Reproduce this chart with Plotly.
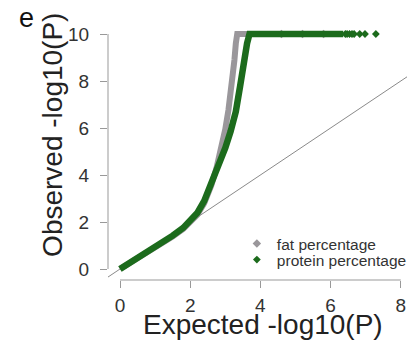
import plotly.graph_objects as go

# Diagonal reference (expected = observed)
diag_x = [-1, 11]
diag_y = [-1, 11]

# fat percentage
fat_x = [0, 0.5, 1.0, 1.5, 1.8, 2.0, 2.2, 2.4, 2.6, 2.75, 2.9, 3.0, 3.09, 3.18, 3.26, 3.30, 3.34, 4.5, 5.5, 6.2]
fat_y = [0, 0.44, 0.9, 1.38, 1.7, 1.97, 2.3, 2.8, 3.55, 4.3, 5.2, 5.95, 6.77, 7.76, 8.89, 9.6, 10.0, 10.0, 10.0, 10.0]
fat_tail_x = [4.6, 5.2, 5.8]
fat_tail_y = [10, 10, 10]

# protein percentage
prot_x = [0, 0.5, 1.0, 1.5, 1.8, 2.0, 2.2, 2.4, 2.6, 2.8, 3.0, 3.15, 3.3, 3.42, 3.53, 3.62, 3.69, 4.5, 5.5, 6.36]
prot_y = [0, 0.46, 0.93, 1.42, 1.75, 2.02, 2.38, 2.9, 3.6, 4.4, 5.15, 5.85, 6.7, 7.76, 8.89, 9.6, 10.0, 10.0, 10.0, 10.0]
prot_tail_x = [6.42, 6.47, 6.54, 6.61, 6.67, 6.83, 6.98, 7.29]
prot_tail_y = [10, 10, 10, 10, 10, 10, 10, 10]

x_ticks = [0, 2, 4, 6, 8]
y_ticks = [0, 2, 4, 6, 8, 10]

GREY = "#9a979b"
GREEN = "#1c6b1c"
FONT = "Liberation Sans, Arial, sans-serif"

fig = go.Figure()
fig.add_trace(go.Scatter(x=diag_x, y=diag_y, mode="lines",
                         line=dict(color="#8a8a8a", width=1), showlegend=False, hoverinfo="skip"))
fig.add_trace(go.Scatter(x=fat_x, y=fat_y, mode="lines",
                         line=dict(color=GREY, width=6), showlegend=False))
fig.add_trace(go.Scatter(x=fat_tail_x, y=fat_tail_y, mode="markers", name="fat percentage",
                         marker=dict(symbol="diamond", size=6.5, color=GREY), legend="legend"))
fig.add_trace(go.Scatter(x=prot_x, y=prot_y, mode="lines",
                         line=dict(color=GREEN, width=6.5), showlegend=False))
fig.add_trace(go.Scatter(x=prot_tail_x, y=prot_tail_y, mode="markers",
                         name="protein percentage",
                         marker=dict(symbol="diamond", size=6, color=GREEN), legend="legend2"))

axis_common = dict(showgrid=False, zeroline=False, showline=False, ticks="outside",
                   ticklen=7, tickwidth=1, tickcolor="#999999",
                   tickfont=dict(family=FONT, size=19, color="#333333"))

legend_common = dict(xanchor="left", yanchor="top", bgcolor="rgba(0,0,0,0)",
                     font=dict(family=FONT, size=15.5, color="#333333"), itemwidth=30)

fig.update_layout(
    width=407, height=341,
    margin=dict(l=108, r=0, t=25, b=61, autoexpand=False),
    plot_bgcolor="white", paper_bgcolor="white",
    xaxis=dict(range=[-0.342, 8.177], tickvals=x_ticks, ticklabelstandoff=1, **axis_common),
    yaxis=dict(range=[-0.468, 10.383], tickvals=y_ticks, ticklabelstandoff=7, **axis_common),
    legend=dict(x=0.431, y=0.208, **legend_common),
    legend2=dict(x=0.431, y=0.145, **legend_common),
    shapes=[
        dict(type="line", xref="paper", x0=0, x1=0, yref="y", y0=0, y1=10,
             line=dict(color="#999999", width=1)),
        dict(type="line", xref="x", x0=0, x1=8, yref="paper", y0=0, y1=0,
             line=dict(color="#999999", width=1)),
    ],
    annotations=[
        dict(text="Expected -log10(P)", xref="paper", yref="paper", x=0.518, y=-0.176,
             xanchor="center", yanchor="middle", showarrow=False,
             font=dict(family=FONT, size=28, color="#222222")),
        dict(text="Observed -log10(P)", xref="paper", yref="paper", x=-0.184, y=0.569,
             xanchor="center", yanchor="middle", showarrow=False, textangle=-90,
             font=dict(family=FONT, size=28, color="#222222")),
        dict(text="e", xref="paper", yref="paper", x=-0.274, y=1.029,
             xanchor="center", yanchor="middle", showarrow=False,
             font=dict(family=FONT, size=27, color="#111111")),
    ],
)

fig.write_html("out.html")
